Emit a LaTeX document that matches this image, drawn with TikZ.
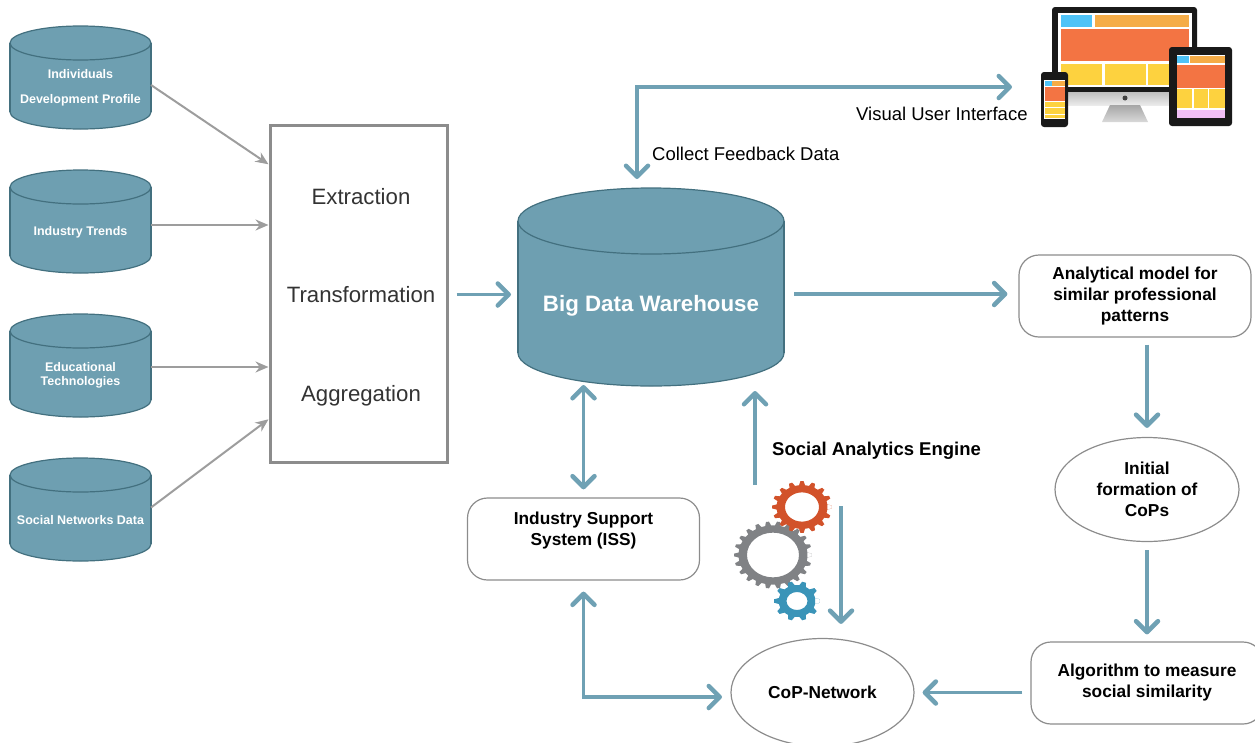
\documentclass[tikz,border=0pt]{standalone}
\usepackage{fontspec}
\setmainfont{Liberation Sans}
\usetikzlibrary{shapes.geometric, arrows.meta, positioning}
\usetikzlibrary{calc}

\definecolor{tealfill}{HTML}{6E9FB1}
\definecolor{tealedge}{HTML}{43707F}
\definecolor{tealflow}{HTML}{6FA1B4}
\definecolor{boxedge}{HTML}{8C8C8C}
\definecolor{scrblue}{HTML}{4FC3F7}
\definecolor{scrorange}{HTML}{F5AC47}
\definecolor{scrred}{HTML}{F37443}
\definecolor{scryellow}{HTML}{FDD23F}
\definecolor{scrpink}{HTML}{F1BFF5}
\definecolor{gearred}{HTML}{D2522A}
\definecolor{geargray}{HTML}{808285}
\definecolor{gearblue}{HTML}{3A94B8}

\tikzset{
  drum/.style={
      draw=tealedge,
      line width=1.2pt,
      fill=tealfill
    }
}

% x y outer root hole teeth colour
\newcommand{\cogwheel}[7]{
  \begin{scope}[shift={(#1,#2)}, yscale=0.86]
    \pgfmathsetmacro{\cogstep}{360/#6}
    \fill[#7, even odd rule] (-0.3*\cogstep:#4)
      \foreach \i [evaluate=\i as \a using \i*\cogstep] in {0,...,#6} {
        -- (\a-0.3*\cogstep:#4) -- (\a-0.14*\cogstep:#3)
        -- (\a+0.14*\cogstep:#3) -- (\a+0.3*\cogstep:#4)
      } -- cycle (0,0) circle [radius=#5];
  \end{scope}
}

% node, x radius, y radius
\newcommand{\drumshape}[3]{
  \draw[drum] ($(#1.south)+(0,-#3)$) ellipse [x radius=#2, y radius=#3];
  \fill[tealfill] ($(#1.north west)+(0,#3)$) rectangle ($(#1.south east)+(0,-#3)$);
  \draw[drum] ($(#1.north west)+(0,#3)$) -- ($(#1.south west)+(0,-#3)$);
  \draw[drum] ($(#1.north east)+(0,#3)$) -- ($(#1.south east)+(0,-#3)$);
  \draw[drum] ($(#1.north)+(0,#3)$) ellipse [x radius=#2, y radius=#3];
}

\begin{document}
\begin{tikzpicture}[
      x=1pt,
      y=-1pt,
      store/.style={
          rectangle,
          minimum width=141pt,
          minimum height=103pt,
          inner sep=0pt,
          outer sep=0pt
        },
      storetext/.style={
          text=white,
          align=center,
          inner sep=0pt,
          font=\fontsize{12.5}{25}\selectfont\bfseries
        },
      etl/.style={
          rectangle,
          draw=boxedge,
          line width=3pt,
          fill=white,
          minimum width=177pt,
          minimum height=337pt
        },
      etltext/.style={
          align=center,
          inner sep=0pt,
          text=black!80,
          font=\fontsize{22.2}{98.5}\selectfont
        },
      proc/.style={
          rectangle,
          draw=boxedge,
          line width=1.2pt,
          rounded corners=20pt,
          align=center,
          font=\fontsize{17.3}{21}\selectfont\bfseries,
          minimum width=232pt,
          minimum height=82pt
        },
      phase/.style={
          ellipse,
          draw=boxedge,
          line width=1.2pt,
          align=center,
          font=\fontsize{17.3}{21}\selectfont\bfseries,
          inner sep=0pt
        },
      note/.style={
          anchor=west,
          inner sep=0pt,
          font=\fontsize{18.5}{22}\selectfont
        },
      feed/.style={
          -{Stealth[length=13pt,width=11pt]},
          line width=2pt,
          draw=boxedge!85
        },
      flow/.style={
          -{Straight Barb[length=11pt,width=22pt,line width=4.5pt,round]},
          line width=3.5pt,
          draw=tealflow
        },
      bothflow/.style={
          {Straight Barb[length=11pt,width=22pt,line width=4.5pt,round]}-{Straight Barb[length=11pt,width=22pt,line width=4.5pt,round]},
          line width=3.5pt,
          draw=tealflow
        }
    ]
    \useasboundingbox (0,0) rectangle (1255,742);

    % Nodes
    \node[store, anchor=north] (individuals) at (80.5,26) {};
    \node[store, below=41pt of individuals] (trends) {};
    \node[store, below=41pt of trends] (edtech) {};
    \node[store, below=41pt of edtech] (social) {};
    \node[store, anchor=north, minimum width=266pt, minimum height=198pt] (warehouse) at (651,188) {};

    \foreach \source in {individuals, trends, edtech, social}
      \drumshape{\source}{70.5}{17};
    \drumshape{warehouse}{133}{33};

    \node[storetext, below=43pt of individuals.north] (individualstext) {Individuals\\Development  Profile};
    \node[storetext, below=56pt of trends.north] (trendstext) {Industry Trends};
    \node[storetext, below=48pt of edtech.north, font=\fontsize{12.5}{14}\selectfont\bfseries] (edtechtext) {Educational\\Technologies};
    \node[storetext, below=57pt of social.north] (socialtext) {Social Networks Data};
    \node[storetext, font=\fontsize{22.3}{26}\selectfont\bfseries] (warehousetext) at (651,306) {Big Data Warehouse};

    \node[etl] (extract) at (358.5,293.5) {};
    \node[etltext] (extracttext) at (361,297) {Extraction\\Transformation\\Aggregation};

    \node[proc] (model) at (1135,296) {Analytical model for\\similar professional\\patterns};
    \node[phase, minimum width=184pt, minimum height=104pt] (initial) at (1147,489.5) {Initial\\formation of\\CoPs};
    \node[proc] (algorithm) at (1147,683) {Algorithm to measure\\social similarity};
    \node[phase, minimum width=183pt, minimum height=108pt] (network) at (822.5,692.5) {CoP-Network};
    \node[proc] (support) at (583.5,539) {Industry Support\\System (ISS)\\[-1pt]\mbox{}};

    \node[note] (collect) at (652,154) {Collect Feedback Data};
    \node[note] (visual) at (856,114) {Visual User Interface};
    \node[note, font=\fontsize{18.5}{22}\selectfont\bfseries] (engine) at (772,451) {Social Analytics Engine};

    \coordinate (screens) at (1012,87);
    \coordinate (gears) at (755,485);
    \coordinate (gearsout) at (841,506);
    \coordinate (copin) at (722,697);

    % Device icons
    \fill[black!90, rounded corners=3pt] (1052,7) rectangle (1197,92);
    \shade[top color=black!25, bottom color=black!8] (1052,92) rectangle (1197,105);
    \shade[top color=black!35, bottom color=black!15] (1110,105) -- (1140,105) -- (1148,122) -- (1102,122) -- cycle;
    \fill[white] (1058,13) rectangle (1192,87);
    \fill[black!75] (1125,98) circle [radius=2.5pt];
    \foreach \xa/\ya/\xb/\yb/\tone in {
        1061/15/1092/27/scrblue, 1095/15/1189/27/scrorange, 1061/29/1189/61/scrred,
        1061/64/1102/85/scryellow, 1105/64/1146/85/scryellow, 1148/64/1189/85/scryellow}
      \fill[\tone] (\xa,\ya) rectangle (\xb,\yb);

    \fill[black!90, rounded corners=3pt] (1169,47) rectangle (1232,126);
    \fill[white] (1177,55) rectangle (1225,118);
    \foreach \xa/\ya/\xb/\yb/\tone in {
        1177/56/1189/63/scrblue, 1190/56/1225/63/scrorange, 1177/65/1225/88/scrred,
        1177/89/1192/108/scryellow, 1194/89/1208/108/scryellow, 1209/89/1225/108/scryellow,
        1177/110/1225/118/scrpink}
      \fill[\tone] (\xa,\ya) rectangle (\xb,\yb);

    \fill[black!90, rounded corners=3pt] (1041,72) rectangle (1068,127);
    \fill[white] (1044,80) rectangle (1065,119);
    \foreach \xa/\ya/\xb/\yb/\tone in {
        1045/81/1052/86/scrblue, 1052/81/1065/86/scrorange, 1045/87/1065/101/scrred,
        1045/102/1065/107/scryellow, 1045/108/1065/114/scryellow, 1045/115/1065/118/scryellow}
      \fill[\tone] (\xa,\ya) rectangle (\xb,\yb);

    % Gears
    \cogwheel{773}{555}{39}{34.5}{26}{22}{geargray}
    \cogwheel{802}{507}{30}{25.5}{17}{16}{gearred}
    \cogwheel{797}{601}{23}{18.5}{10.5}{10}{gearblue}

    % Arrows
    \draw[feed] ([yshift=-7.5pt]individuals.east) -- ($(extract.north west)!0.12!(extract.south west)$);
    \draw[feed] ([yshift=-3.5pt]trends.east) -- ([yshift=-3.5pt]trends.east -| extract.west);
    \draw[feed] ([yshift=-1.5pt]edtech.east) -- ([yshift=-1.5pt]edtech.east -| extract.west);
    \draw[feed] ([yshift=2pt]social.east) -- ($(extract.north west)!0.87!(extract.south west)$);

    \draw[flow] ([xshift=8pt,yshift=-1pt]extract.east) -- ([xshift=-7pt,yshift=-1pt]extract.east -| warehouse.west);
    \draw[flow, shorten <=10pt, shorten >=11pt] ([yshift=2pt]model.west -| warehouse.east) -- ([yshift=2pt]model.west);
    \draw[flow] ([yshift=-7pt]model.south -| initial) -- ([yshift=9pt]initial.north);
    \draw[flow] ([yshift=-8pt]initial.south) -- ([yshift=7pt]algorithm.north);
    \draw[flow] ([xshift=-8pt]algorithm.west |- network) -- ([xshift=8pt]network.east);
    \draw[flow] (gears) -- ([yshift=-5pt]gears |- warehouse.south);
    \draw[flow] (gearsout) -- ([yshift=14pt]gearsout |- network.north);
    \draw[bothflow] ([yshift=8pt]support.north) -- ([yshift=1pt]support.north |- warehouse.south);
    \draw[bothflow] ([yshift=-11pt]support.south) -- (support.south |- copin) -- (copin);
    \draw[bothflow] ([xshift=-14pt,yshift=9pt]warehouse.north) -- ([xshift=-14pt]warehouse.north |- screens) -- (screens);
  \end{tikzpicture}
\end{document}
